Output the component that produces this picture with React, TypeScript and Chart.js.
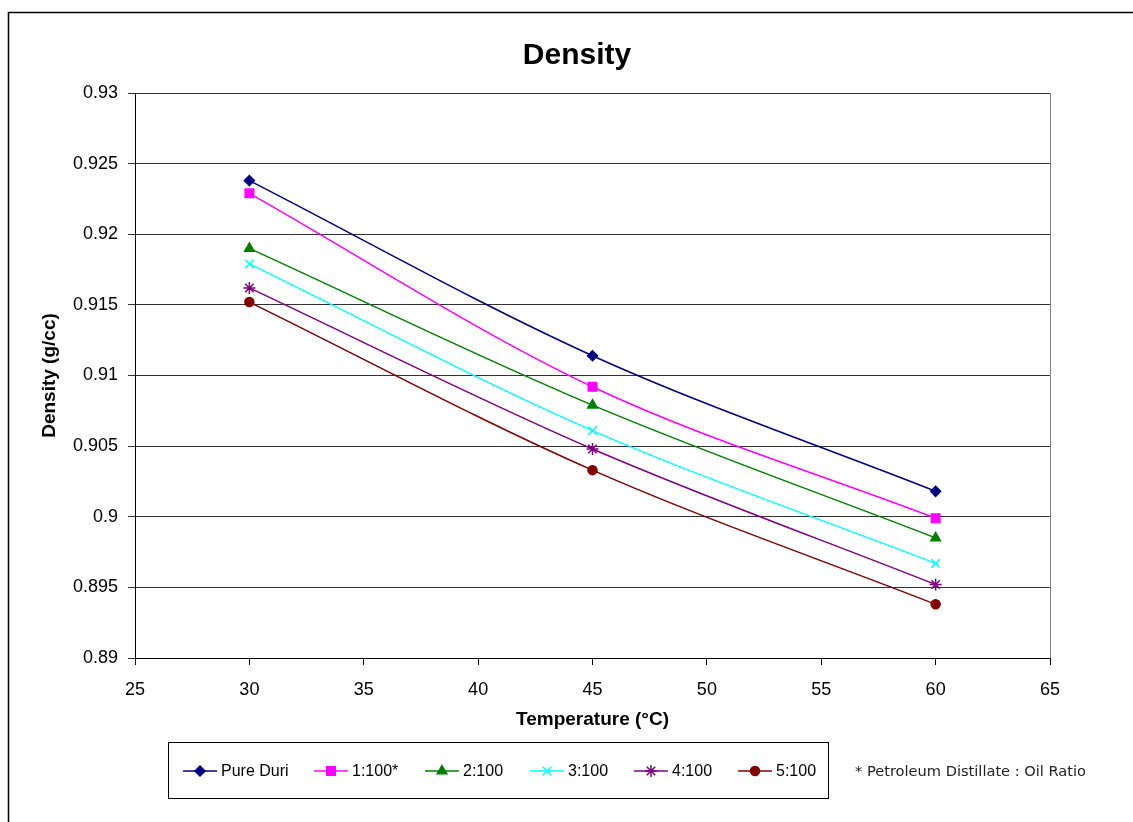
import React, { useEffect, useRef } from "react";
import { Chart, registerables } from "chart.js";
import { drawPoint } from "chart.js/helpers";

Chart.register(...registerables);

const temperatures = [30, 45, 60];
const pureDuri = [0.9238, 0.9114, 0.9018];
const ratio1 = [0.9229, 0.9092, 0.8999];
const ratio2 = [0.919, 0.9079, 0.8985];
const ratio3 = [0.9179, 0.9061, 0.8967];
const ratio4 = [0.9162, 0.9048, 0.8952];
const ratio5 = [0.9152, 0.9033, 0.8938];

const seriesNames = ["Pure Duri", "1:100*", "2:100", "3:100", "4:100", "5:100"];
const seriesValues = [pureDuri, ratio1, ratio2, ratio3, ratio4, ratio5];
const seriesColors = ["#000080", "#FF00FF", "#008000", "#00FFFF", "#800080", "#800000"];
const seriesMarkers = ["rectRot", "rect", "triangle", "crossRot", "star", "circle"];
const markerRadius = [5, 6, 5.5, 6, 6, 4.5];

const chartTitle = "Density";
const xTitle = "Temperature (°C)";
const yTitle = "Density (g/cc)";
const footnote = "* Petroleum Distillate : Oil Ratio";

const legendXs = [183, 314, 425, 530, 634, 738];

const FONT = "'Liberation Sans', Arial, sans-serif";

export default function App() {
  const ref = useRef<HTMLCanvasElement | null>(null);

  useEffect(() => {
    const canvas = ref.current;
    if (!canvas) return;

    const framePlugin = {
      id: "frame",
      beforeDraw(chart: any) {
        const ctx = chart.ctx;
        ctx.save();
        ctx.fillStyle = "#fff";
        ctx.fillRect(0, 0, chart.width, chart.height);
        ctx.restore();
      },
      afterDraw(chart: any) {
        const ctx = chart.ctx;
        const a = chart.chartArea;
        ctx.save();
        // outer border (left & top)
        ctx.strokeStyle = "#000";
        ctx.lineWidth = 1.5;
        ctx.beginPath();
        ctx.moveTo(8.5, 830);
        ctx.lineTo(8.5, 12.5);
        ctx.lineTo(1140, 12.5);
        ctx.stroke();
        // title
        ctx.fillStyle = "#000";
        ctx.font = "bold 30px " + FONT;
        ctx.textAlign = "center";
        ctx.textBaseline = "middle";
        ctx.fillText(chartTitle, 577, 56);
        // plot area right border
        ctx.strokeStyle = "#808080";
        ctx.lineWidth = 1;
        ctx.beginPath();
        ctx.moveTo(Math.round(a.right) + 0.5, a.top);
        ctx.lineTo(Math.round(a.right) + 0.5, a.bottom);
        ctx.stroke();
        // legend box
        ctx.strokeStyle = "#000";
        ctx.lineWidth = 1;
        ctx.strokeRect(168.5, 742.5, 660, 56);
        const ly = 771;
        chart.data.datasets.forEach((ds: any, i: number) => {
          const x0 = legendXs[i];
          ctx.strokeStyle = ds.borderColor;
          ctx.lineWidth = 1.5;
          ctx.beginPath();
          ctx.moveTo(x0, ly);
          ctx.lineTo(x0 + 34, ly);
          ctx.stroke();
          ctx.fillStyle = ds.backgroundColor;
          ctx.strokeStyle = ds.borderColor;
          ctx.lineWidth = 1.5;
          drawPoint(ctx, { pointStyle: ds.pointStyle, radius: ds.pointRadius, rotation: 0, borderWidth: 1.5 }, x0 + 17, ly);
          ctx.fillStyle = "#000";
          ctx.font = "16px " + FONT;
          ctx.textBaseline = "middle";
          ctx.textAlign = "left";
          ctx.fillText(ds.label, x0 + 38, ly + 1);
        });
        ctx.fillStyle = "#222";
        ctx.font = "14.6px 'DejaVu Sans', sans-serif";
        ctx.textBaseline = "middle";
        ctx.textAlign = "left";
        ctx.fillText(footnote, 855, 772);
        ctx.restore();
      },
    };

    const chart = new Chart(canvas, {
      type: "line",
      data: {
        datasets: seriesNames.map((name, i) => ({
          label: name,
          data: temperatures.map((t, j) => ({ x: t, y: seriesValues[i][j] })),
          borderColor: seriesColors[i],
          backgroundColor: seriesColors[i],
          borderWidth: 1.5,
          pointStyle: seriesMarkers[i] as any,
          pointRadius: markerRadius[i],
          pointBorderWidth: 1.5,
          tension: 0.33,
        })),
      },
      options: {
        animation: false,
        responsive: false,
        devicePixelRatio: 1,
        layout: { padding: { left: 20, right: 83, top: 93, bottom: 88 } },
        plugins: {
          legend: { display: false },
          tooltip: { enabled: false },
          title: { display: false },
        },
        scales: {
          x: {
            type: "linear",
            min: 25,
            max: 65,
            ticks: {
              stepSize: 5,
              color: "#000",
              font: { family: FONT, size: 18 },
              padding: 14,
            },
            grid: {
              drawOnChartArea: false,
              color: "#000",
              tickLength: 7,
            },
            border: { color: "#000", width: 1 },
            title: {
              display: true,
              text: xTitle,
              color: "#000",
              font: { family: FONT, size: 19, weight: "bold" },
              padding: { top: 3, bottom: 3 },
            },
            afterFit(scale: any) {
              scale.height = 76;
            },
          },
          y: {
            min: 0.89,
            max: 0.93,
            ticks: {
              stepSize: 0.005,
              color: "#000",
              font: { family: FONT, size: 18 },
              padding: 10,
              callback: (v: any) => String(Number(Number(v).toFixed(3))),
            },
            grid: {
              color: "#333",
              lineWidth: 1,
              tickLength: 7,
            },
            border: { color: "#000", width: 1 },
            title: {
              display: true,
              text: yTitle,
              color: "#000",
              font: { family: FONT, size: 19, weight: "bold" },
              padding: { top: 18, bottom: 18 },
            },
            afterFit(scale: any) {
              scale.width = 115;
            },
          },
        },
      },
      plugins: [framePlugin],
    });

    return () => chart.destroy();
  }, []);

  return (
    <div style={{ position: "fixed", left: 0, top: 0, width: 1133, height: 822, background: "#fff" }}>
      <canvas ref={ref} width={1133} height={822} style={{ display: "block" }} />
    </div>
  );
}
